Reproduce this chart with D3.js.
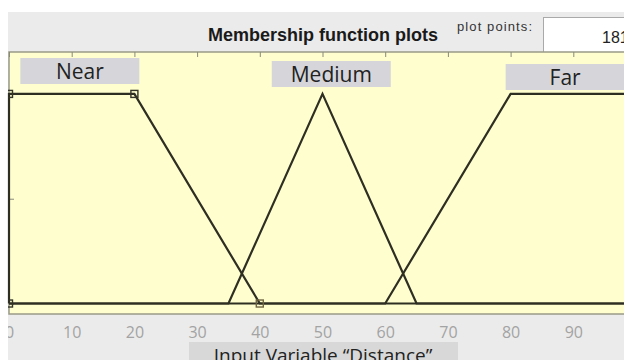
<!DOCTYPE html>
<html>
<head>
<meta charset="utf-8">
<script src="https://cdn.jsdelivr.net/npm/d3@7"></script>
<style>
  body { margin: 0; background: #fff; }
  svg { display: block; }
</style>
</head>
<body>
<div id="chart"></div>
<script>
// Dữ liệu hàm thành viên
const mfNames = ["Near", "Medium", "Far"];
const nearParams = [0, 0, 20, 40];     // trapmf
const mediumParams = [35, 50, 65];     // trimf
const farParams = [60, 80, 100, 100];  // trapmf
const xTicks = [0, 10, 20, 30, 40, 50, 60, 70, 80, 90, 100];
const yTicks = [0, 0.5, 1];
const xRange = [0, 100];
const plotPoints = "181";
const xLabel = "Input Variable “Distance”";

const W = 624, H = 360;
const plot = { left: 9, right: 636, top: 52, bottom: 314 };

const svg = d3.select("#chart").append("svg")
    .attr("width", W).attr("height", H);

// Nền xám của khung
svg.append("rect")
    .attr("x", 8).attr("y", 12)
    .attr("width", W - 8).attr("height", H - 12)
    .attr("fill", "#ebebeb");

const defs = svg.append("defs");
defs.append("clipPath").attr("id", "panel")
    .append("rect").attr("x", 8).attr("y", 12).attr("width", W).attr("height", H);

const x = d3.scaleLinear().domain(xRange).range([plot.left, plot.right]);
const y = d3.scaleLinear().domain([-0.05, 1.2]).range([plot.bottom, plot.top]);

// Tiêu đề
svg.append("text")
    .attr("x", 323).attr("y", 41)
    .attr("text-anchor", "middle")
    .style("font-family", "'Liberation Sans', Arial, sans-serif")
    .style("font-size", "18px")
    .style("font-weight", "bold")
    .attr("fill", "#1a1a1a")
    .text("Membership function plots");

svg.append("text")
    .attr("x", 457).attr("y", 31)
    .attr("textLength", 75)
    .style("font-family", "'Liberation Sans', Arial, sans-serif")
    .style("font-size", "13px")
    .attr("fill", "#333")
    .text("plot points:");

svg.append("rect")
    .attr("x", 543.5).attr("y", 17.5)
    .attr("width", 90).attr("height", 35)
    .attr("fill", "#fff")
    .attr("stroke", "#a9a9a9");

svg.append("text")
    .attr("x", 602).attr("y", 43)
    .style("font-family", "'Liberation Sans', Arial, sans-serif")
    .style("font-size", "16px")
    .attr("fill", "#222")
    .text(plotPoints);

// Vùng vẽ
svg.append("rect")
    .attr("x", plot.left).attr("y", plot.top)
    .attr("width", plot.right - plot.left).attr("height", plot.bottom - plot.top)
    .attr("fill", "#fefecf")
    .attr("stroke", "#9a9a88")
    .attr("stroke-width", 1.5);

// Trục
svg.append("g")
    .attr("transform", `translate(0,${plot.bottom})`)
    .attr("clip-path", "url(#panel)")
    .call(d3.axisBottom(x).tickValues(xTicks).tickSize(-5).tickPadding(13).tickFormat(d3.format("d")))
    .call(g => g.select(".domain").remove())
    .call(g => g.selectAll("line").attr("stroke", "#8a8a7a"))
    .call(g => g.selectAll("text")
        .attr("fill", "#a3a3a3")
        .style("font-family", "'Open Sans', sans-serif")
        .style("font-size", "16px"));

svg.append("g")
    .attr("transform", `translate(0,${plot.top})`)
    .call(d3.axisTop(x).tickValues(xTicks).tickSize(-5).tickFormat(""))
    .call(g => g.select(".domain").remove())
    .call(g => g.selectAll("line").attr("stroke", "#8a8a7a"));

svg.append("g")
    .attr("transform", `translate(${plot.left},0)`)
    .call(d3.axisLeft(y).tickValues(yTicks).tickSize(-5).tickFormat(""))
    .call(g => g.select(".domain").remove())
    .call(g => g.selectAll("line").attr("stroke", "#8a8a7a"));

// Đường cong hàm thành viên
function trapPoints(p) {
    return [[xRange[0], 0], [p[0], 0], [p[1], 1], [p[2], 1], [p[3], 0], [xRange[1], 0]];
}
function triPoints(p) {
    return [[xRange[0], 0], [p[0], 0], [p[1], 1], [p[2], 0], [xRange[1], 0]];
}
const curves = [trapPoints(nearParams), triPoints(mediumParams), trapPoints(farParams)];

const line = d3.line().x(d => x(d[0])).y(d => y(d[1]));

svg.append("g")
    .selectAll("path")
    .data(curves)
    .enter()
    .append("path")
    .attr("d", line)
    .attr("fill", "none")
    .attr("stroke", "#2e2e22")
    .attr("stroke-width", 2.2)
    .attr("stroke-linejoin", "miter");

// Điểm điều khiển của hàm được chọn (Near)
const handles = [[nearParams[0], 0], [nearParams[1], 1], [nearParams[2], 1], [nearParams[3], 0]];
svg.append("g")
    .attr("clip-path", "url(#panel)")
    .selectAll("rect")
    .data(handles)
    .enter()
    .append("rect")
    .attr("x", d => x(d[0]) - 3.5)
    .attr("y", d => y(d[1]) - 3.5)
    .attr("width", 7).attr("height", 7)
    .attr("fill", "none")
    .attr("stroke", (d, i) => i === 3 ? "#6e6440" : "#33332a")
    .attr("stroke-width", 1.4);

// Nhãn tên hàm
const labelX = [11.3, 51.4, 88.7];
const labelY = [58, 61, 64];
const labels = svg.append("g")
    .selectAll("g")
    .data(mfNames)
    .enter()
    .append("g")
    .attr("transform", (d, i) => `translate(${x(labelX[i])},${labelY[i]})`);

labels.append("rect")
    .attr("x", -59.5).attr("y", 0)
    .attr("width", 119).attr("height", 26)
    .attr("fill", "#d6d6da");

labels.append("text")
    .attr("y", 21)
    .attr("text-anchor", "middle")
    .style("font-family", "'Open Sans', sans-serif")
    .style("font-size", "21px")
    .attr("fill", "#222")
    .text(d => d);

// Nhãn trục X
svg.append("rect")
    .attr("x", 189).attr("y", 342)
    .attr("width", 269).attr("height", 30)
    .attr("fill", "#d8d8d8");

svg.append("text")
    .attr("x", 323).attr("y", 362)
    .attr("text-anchor", "middle")
    .style("font-family", "'Open Sans', sans-serif")
    .style("font-size", "19px")
    .attr("fill", "#222")
    .text(xLabel);
</script>
</body>
</html>
